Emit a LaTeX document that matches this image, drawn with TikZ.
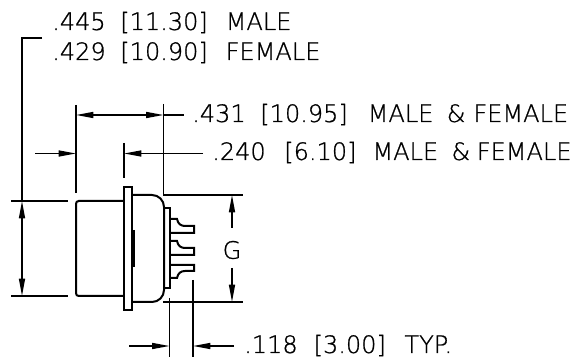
\documentclass[tikz,border=0pt]{standalone}
\usepackage{fontspec}
\setmainfont[FakeBold=0.9]{DejaVu Sans ExtraLight}
\usetikzlibrary{arrows.meta}
\newcommand{\gp}[1]{\hspace{#1pt}}
\tikzset{
    part/.style={line width=1.5pt},
    dim/.style={line width=1.05pt},
    arr/.style={dim, -{Stealth[length=13pt, width=4.5pt, inset=0pt]}},
    dimtext/.style={anchor=base west, inner sep=0pt, font=\fontsize{18}{18}\selectfont}
}
\begin{document}
\begin{tikzpicture}[x=0.75pt, y=-0.75pt]
    \useasboundingbox (0,0) rectangle (578,359);

    % Quote
    \node[dimtext] (male) at (52,30) {.445\gp{11}[11.30]\gp{13.5}MALE};
    \node[dimtext] (female) at (52,60) {.429\gp{11}[10.90]\gp{13.5}FEMALE};
    \node[dimtext] (width_a) at (192,122) {.431\gp{11}[10.95]\gp{15}MALE\gp{10}\&\gp{6}FEMALE};
    \node[dimtext] (width_b) at (212,160) {.240\gp{14}[6.10]\gp{12}MALE\gp{10}\&\gp{5}FEMALE};
    \node[dimtext] (pin_len) at (244,353) {.118\gp{12}[3.00]\gp{14}TYP.};
    \node[dimtext, anchor=center] (g) at (232,250) {G};

    % Corpo del connettore
    \draw[part, rounded corners=2pt] (124,201) -- (76,201) -- (76,296) -- (124,296);
    \draw[part] (124,187.5) rectangle (132,310);
    \draw[part, rounded corners=9pt] (132,195) -- (164,195) -- (164,302) -- (132,302);
    \draw[part] (164,208) rectangle (170,288);
    \draw[line width=2.5pt] (133.5,230) -- (133.5,267);

    % Pin
    \draw[part] (170,219) -- (177,219) .. controls (178,224) and (181,226) .. (185,226) -- (194,226) -- (194,233) -- (170,233);
    \draw[part] (170,241) -- (177,241) .. controls (178,246) and (181,248) .. (185,248) -- (194,248) -- (194,255) -- (170,255);
    \draw[part] (170,278) -- (177,278) .. controls (178,273) and (181,271) .. (185,271) -- (194,271) -- (194,265) -- (170,265);

    % Linee di riferimento
    \draw[dim] (11,201) -- (68,201);
    \draw[dim] (11,296) -- (68,296);
    \draw[dim] (76,105) -- (76,193);
    \draw[dim] (163.5,104) -- (163.5,195) -- (243,195);
    \draw[dim] (124,143) -- (124,178);
    \draw[dim] (163,302) -- (243,302);
    \draw[dim] (169.5,298) -- (169.5,357);
    \draw[dim] (193,280) -- (193,357);

    % Quota altezza
    \draw[dim] (42,38) -- (22,38) -- (22,201);
    \draw[arr] (22,240) -- (22,201);
    \draw[arr] (22,240) -- (22,296);

    % Quote orizzontali
    \draw[arr] (120,115) -- (76,115);
    \draw[arr] (120,115) -- (163.5,115);
    \draw[dim] (163.5,115) -- (184,115);
    \draw[arr] (35,153.5) -- (76,153.5);
    \draw[arr] (203,153.5) -- (124,153.5);

    % Quota G
    \draw[arr] (232,228) -- (232,195);
    \draw[arr] (232,268) -- (232,302);

    % Quota pin
    \draw[arr] (129,346) -- (169.5,346);
    \draw[arr] (234,346) -- (193,346);
\end{tikzpicture}
\end{document}
